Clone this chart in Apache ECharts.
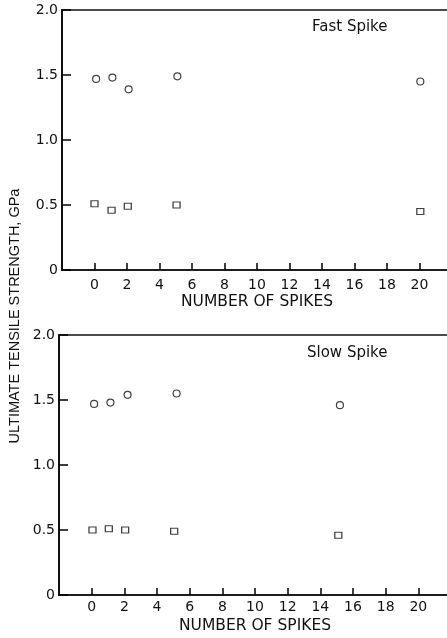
<!DOCTYPE html>
<html>
<head>
<meta charset="utf-8">
<script src="https://cdn.jsdelivr.net/npm/echarts@6/dist/echarts.min.js"></script>
<style>
html,body{margin:0;padding:0;background:#fff;}
#c{width:447px;height:638px;}
</style>
</head>
<body>
<div id="c"></div>
<script>
// Fast Spike panel
var fastCircleX = [0.1, 1.1, 2.1, 5.1, 20.05];
var fastCircleY = [1.47, 1.48, 1.39, 1.49, 1.45];
var fastSquareX = [0.0, 1.05, 2.05, 5.05, 20.05];
var fastSquareY = [0.51, 0.46, 0.49, 0.50, 0.45];
// Slow Spike panel
var slowCircleX = [0.15, 1.15, 2.2, 5.2, 15.2];
var slowCircleY = [1.47, 1.48, 1.54, 1.55, 1.46];
var slowSquareX = [0.05, 1.05, 2.05, 5.05, 15.1];
var slowSquareY = [0.50, 0.51, 0.50, 0.49, 0.46];
// Axis text
var xTitle = 'NUMBER OF SPIKES';
var yTitle = 'ULTIMATE TENSILE STRENGTH, GPa';
var panelTitles = ['Fast Spike', 'Slow Spike'];

function pairs(xs, ys) { return xs.map(function (x, i) { return [x, ys[i]]; }); }

var FONT = '"DejaVu Sans", sans-serif';
var FONT2 = '"Liberation Sans", Arial, sans-serif';
var INK = '#111';

function xAxisCfg(gridIndex, labelMargin, nameGap) {
  return {
    gridIndex: gridIndex, type: 'value', min: -2, max: 22, interval: 2,
    axisLine: { show: true, onZero: false, lineStyle: { color: INK, width: 1.6 } },
    axisTick: { show: true, inside: true, length: 7, lineStyle: { color: '#000', width: 1.5 } },
    splitLine: { show: false },
    axisLabel: {
      margin: labelMargin, color: INK, fontFamily: FONT, fontSize: 14,
      showMinLabel: false, showMaxLabel: false
    },
    name: xTitle, nameLocation: 'middle', nameGap: nameGap,
    nameTextStyle: { color: INK, fontFamily: FONT, fontSize: 15.5 }
  };
}
function yAxisCfg(gridIndex) {
  return {
    gridIndex: gridIndex, type: 'value', min: 0, max: 2, interval: 0.5,
    axisLine: { show: true, onZero: false, lineStyle: { color: INK, width: 2 } },
    axisTick: { show: true, inside: true, length: 9, lineStyle: { color: '#000', width: 1.5 } },
    splitLine: { show: false },
    axisLabel: {
      margin: 4, color: INK, fontFamily: FONT, fontSize: 14,
      formatter: function (v) { return v === 0 ? '0' : v.toFixed(1); }
    }
  };
}
function scatter(idx, data, symbol, size) {
  return {
    type: 'scatter', xAxisIndex: idx, yAxisIndex: idx, data: data,
    symbol: symbol, symbolSize: size,
    itemStyle: { color: '#fff', borderColor: INK, borderWidth: 1.2 },
    emphasis: { disabled: true }
  };
}

var chart = echarts.init(document.getElementById('c'), null, { renderer: 'canvas' });
chart.setOption({
  backgroundColor: '#fff',
  animation: false,
  grid: [
    { left: 62, top: 10, width: 390, height: 260, outerBoundsMode: 'none', containLabel: false,
      show: true, borderColor: INK, borderWidth: 1.6, backgroundColor: 'transparent' },
    { left: 59, top: 335, width: 392, height: 260, outerBoundsMode: 'none', containLabel: false,
      show: true, borderColor: INK, borderWidth: 1.6, backgroundColor: 'transparent' }
  ],
  xAxis: [xAxisCfg(0, 8, 24), xAxisCfg(1, 5, 23)],
  yAxis: [yAxisCfg(0), yAxisCfg(1)],
  series: [
    scatter(0, pairs(fastCircleX, fastCircleY), 'circle', 7),
    scatter(0, pairs(fastSquareX, fastSquareY), 'rect', [7, 6]),
    scatter(1, pairs(slowCircleX, slowCircleY), 'circle', 7),
    scatter(1, pairs(slowSquareX, slowSquareY), 'rect', [7, 6])
  ],
  graphic: [
    { type: 'text', x: 15, y: 316, rotation: Math.PI / 2,
      style: { text: yTitle, fill: INK, font: '14.5px ' + FONT2, textAlign: 'center', textVerticalAlign: 'middle' } },
    { type: 'text', x: 312, y: 27,
      style: { text: panelTitles[0], fill: INK, font: '15px ' + FONT, textAlign: 'left', textVerticalAlign: 'middle' } },
    { type: 'text', x: 307, y: 353,
      style: { text: panelTitles[1], fill: INK, font: '15px ' + FONT, textAlign: 'left', textVerticalAlign: 'middle' } }
  ]
});
</script>
</body>
</html>
